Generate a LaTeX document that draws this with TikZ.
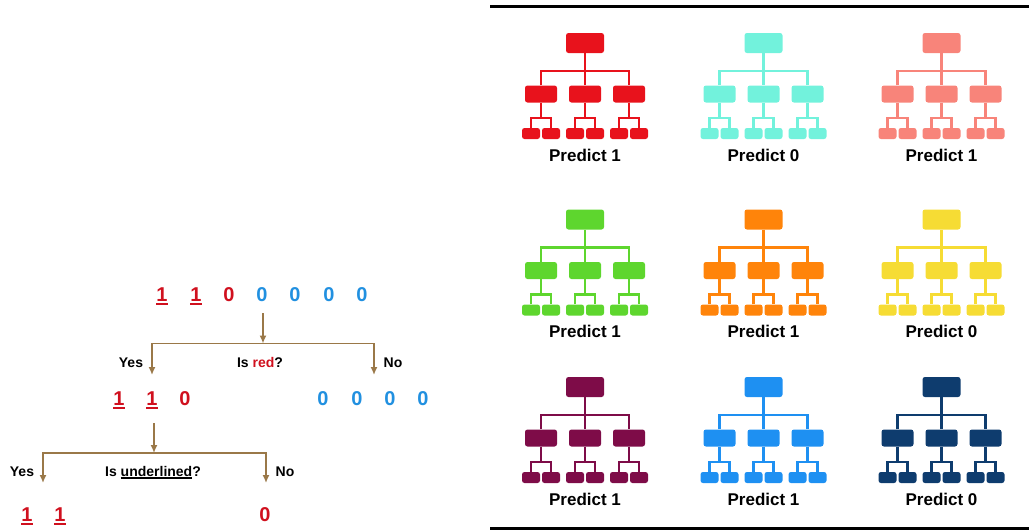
\documentclass[tikz,border=0pt]{standalone}
\usepackage{fontspec}
\setmainfont{Liberation Sans}
\usetikzlibrary{arrows.meta}
\definecolor{digred}{HTML}{D0101E}
\definecolor{digblue}{HTML}{2190E0}
\definecolor{arrbrown}{HTML}{9A7848}
\definecolor{ulgray}{HTML}{444444}
\definecolor{tred}{HTML}{E8121C}
\definecolor{taqua}{HTML}{72F2DC}
\definecolor{tsalmon}{HTML}{F8847A}
\definecolor{tgreen}{HTML}{5ED62E}
\definecolor{torange}{HTML}{FF840A}
\definecolor{tyellow}{HTML}{F6DC34}
\definecolor{tmaroon}{HTML}{7E0C48}
\definecolor{tblue}{HTML}{1E90F2}
\definecolor{tnavy}{HTML}{0E3C6E}
\newcommand\myul[3]{\setbox0\hbox{#3}\rlap{\rule[-#1]{\wd0}{#2}}\box0}
\tikzset{
  tbox/.style={fill=#1, draw=none, inner sep=0pt, rounded corners=2.5pt},
  tline/.style={draw=#1, line width=2.8pt},
  digit/.style={font=\bfseries\fontsize{20}{20}\selectfont, anchor=base, inner sep=0pt},
  lab/.style={font=\bfseries\fontsize{14}{14}\selectfont, anchor=base, inner sep=0pt},
  arr/.style={draw=arrbrown, line width=1.5pt, -{Latex[length=8pt,width=7pt]}},
  frame/.style={draw=black, line width=3pt},
  pics/dtree/.style 2 args={code={
    \node[tbox=#1, minimum width=38pt, minimum height=20pt] (-top) at (0,0) {};
    \coordinate (-j) at (0,28);
    \foreach \i/\x in {1/-44,2/0,3/44}{
      \node[tbox=#1, minimum width=32pt, minimum height=17pt] (-m\i) at (\x,51) {};
      \coordinate (-k\i) at (\x,75);
      \node[tbox=#1, minimum width=18pt, minimum height=11pt] (-a\i) at (\x-10,90.5) {};
      \node[tbox=#1, minimum width=18pt, minimum height=11pt] (-b\i) at (\x+10,90.5) {};
      \draw[tline=#1] (-m\i) -- (-k\i);
      \draw[tline=#1] (-a\i.north) |- (-k\i) -| (-b\i.north);
    }
    \draw[tline=#1] (-top) -- (-j);
    \draw[tline=#1] (-m1.north) |- (-j) -| (-m3.north);
    \draw[tline=#1] (-j) -- (-m2);
    \node[font=\bfseries\fontsize{17}{17}\selectfont, anchor=base, inner sep=0pt] (-lab) at (0,118) {Predict #2};
  }}
}
\begin{document}
\begin{tikzpicture}[x=1pt,y=-1pt]
\useasboundingbox (0,0) rectangle (1029,531);
% right panel frame
\coordinate (ftl) at (490,6);
\coordinate (ftr) at (1029,6);
\coordinate (fbl) at (490,528);
\coordinate (fbr) at (1029,528);
\draw[frame] (ftl) -- (ftr);
\draw[frame] (fbl) -- (fbr);
% trees
\pic (t11) at (585,43) {dtree={tred}{1}};
\pic (t12) at (763.5,43) {dtree={taqua}{0}};
\pic (t13) at (941.5,43) {dtree={tsalmon}{1}};
\pic (t21) at (585,219.5) {dtree={tgreen}{1}};
\pic (t22) at (763.5,219.5) {dtree={torange}{1}};
\pic (t23) at (941.5,219.5) {dtree={tyellow}{0}};
\pic (t31) at (585,387) {dtree={tmaroon}{1}};
\pic (t32) at (763.5,387) {dtree={tblue}{1}};
\pic (t33) at (941.5,387) {dtree={tnavy}{0}};
% left: decision tree
\node[digit, text=digred] (a1) at (162,301) {\myul{3.5pt}{1.8pt}{1}};
\node[digit, text=digred] (a2) at (196,301) {\myul{3.5pt}{1.8pt}{1}};
\node[digit, text=digred] (a3) at (229,301) {0};
\node[digit, text=digblue] (a4) at (262,301) {0};
\node[digit, text=digblue] (a5) at (295,301) {0};
\node[digit, text=digblue] (a6) at (329,301) {0};
\node[digit, text=digblue] (a7) at (362,301) {0};
\coordinate (s1) at (263,313);
\coordinate (j1) at (263,343.5);
\coordinate (d1l) at (152,375);
\coordinate (d1r) at (374,375);
\draw[arr] (s1) -- (j1);
\draw[arr] (j1) -| (d1l);
\draw[arr] (j1) -| (d1r);
\node[lab] (y1) at (131,367) {Yes};
\node[lab] (q1) at (260,367) {Is \textcolor{digred}{red}?};
\node[lab] (n1) at (393,367) {No};
\node[digit, text=digred] (b1) at (119,405) {\myul{3.5pt}{1.8pt}{1}};
\node[digit, text=digred] (b2) at (152,405) {\myul{3.5pt}{1.8pt}{1}};
\node[digit, text=digred] (b3) at (185,405) {0};
\node[digit, text=digblue] (b4) at (323,405) {0};
\node[digit, text=digblue] (b5) at (357,405) {0};
\node[digit, text=digblue] (b6) at (390,405) {0};
\node[digit, text=digblue] (b7) at (423,405) {0};
\coordinate (s2) at (154,423);
\coordinate (j2) at (154,453);
\coordinate (d2l) at (43,483);
\coordinate (d2r) at (266,483);
\draw[arr] (s2) -- (j2);
\draw[arr] (j2) -| (d2l);
\draw[arr] (j2) -| (d2r);
\node[lab] (y2) at (22,476) {Yes};
\node[lab] (q2) at (153,476) {Is {\color{ulgray}\myul{2.5pt}{1.2pt}{\color{black}underlined}}?};
\node[lab] (n2) at (285,476) {No};
\node[digit, text=digred] (c1) at (27,521) {\myul{3.5pt}{1.8pt}{1}};
\node[digit, text=digred] (c2) at (60,521) {\myul{3.5pt}{1.8pt}{1}};
\node[digit, text=digred] (c3) at (265,521) {0};
\end{tikzpicture}
\end{document}
